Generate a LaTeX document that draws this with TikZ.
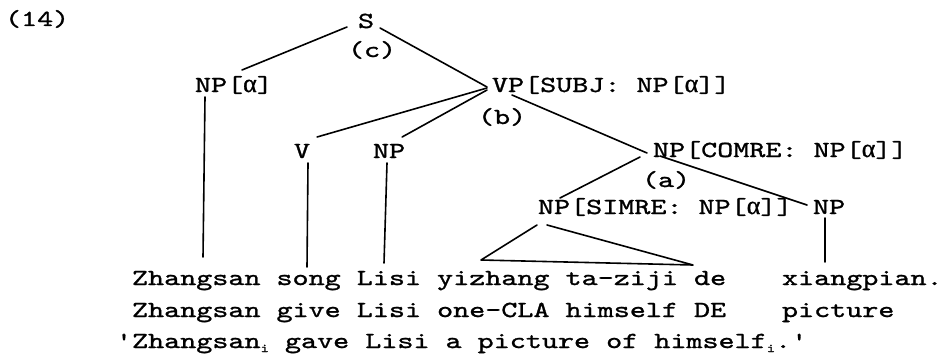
\documentclass[tikz,border=0pt]{standalone}
\usepackage{fontspec}
\newfontfamily\lmono[FakeStretch=1.33,FakeBold=1.2]{lmmono10-regular.otf}
\newfontfamily\grk[FakeBold=1]{Liberation Serif}
\newcommand{\alf}{{\grk\fontsize{26}{28}\selectfont α}}
\begin{document}
\begin{tikzpicture}[x=1pt,y=-1pt,
  lbl/.style={inner sep=0pt, outer sep=0pt, anchor=base west, font=\lmono\fontsize{23}{28}\selectfont},
  edge/.style={line width=1.6pt, line cap=round, line join=round}]
\useasboundingbox (0,0) rectangle (941,353);
\fill[white] (0,0) rectangle (941,353);
% labels
\node[lbl] (ex) at (5,26) {(14)};
\node[lbl] (S) at (358,28) {S};
\node[lbl] (c) at (348,57) {(c)};
\node[lbl] (NPa) at (195,92) {NP[\alf]};
\node[lbl] (VP) at (492,92) {VP[SUBJ: NP[\alf]]};
\node[lbl] (b) at (478,124) {(b)};
\node[lbl] (V) at (294,158) {V};
\node[lbl] (NPone) at (373,158) {NP};
\node[lbl] (COMRE) at (653,157) {NP[COMRE: NP[\alf]]};
\node[lbl] (a) at (642,187) {(a)};
\node[lbl] (SIMRE) at (538,214) {NP[SIMRE: NP[\alf]]};
\node[lbl] (NPtwo) at (813,214) {NP};
\node[lbl] (lineA) at (132,285) {Zhangsan song Lisi yizhang ta-ziji de};
\node[lbl] (lineAx) at (782,285) {xiangpian.};
\node[lbl] (lineB) at (132,317) {Zhangsan give Lisi one-CLA himself DE};
\node[lbl] (lineBx) at (782,317) {picture};
\node[lbl] (lineC) at (116,348) {'Zhangsan\raisebox{-4pt}{\fontsize{12}{12}\selectfont i} gave Lisi a picture of himself\raisebox{-4pt}{\fontsize{12}{12}\selectfont i}.'};
% edges
\draw[edge] ([xshift=-11pt,yshift=1pt]S.base west) -- ([xshift=47pt,yshift=22pt]NPa.base west);
\draw[edge] ([xshift=6pt,yshift=0pt]S.base east) -- ([xshift=-5pt,yshift=5pt]VP.base west);
\draw[edge] ([xshift=-5pt,yshift=4pt]VP.base west) -- ([xshift=7pt,yshift=21pt]V.base east);
\draw[edge] ([xshift=-5pt,yshift=2pt]VP.base west) -- ([xshift=-3pt,yshift=21pt]NPone.base east);
\draw[edge] ([xshift=20pt,yshift=-3pt]VP.base west) -- ([xshift=-6pt,yshift=4pt]COMRE.base west);
\draw[edge] ([xshift=-13pt,yshift=0pt]COMRE.base west) -- ([xshift=22pt,yshift=16pt]SIMRE.base west);
\draw[edge] ([xshift=7pt,yshift=1pt]COMRE.base west) -- ([xshift=-6pt,yshift=9pt]NPtwo.base west);
\draw[edge] ([xshift=10pt,yshift=-5pt]NPa.base west) -- ([xshift=71pt,yshift=28pt]lineA.base west);
\draw[edge] ([xshift=14pt,yshift=-5pt]V.base west) -- ([xshift=175pt,yshift=18pt]lineA.base west);
\draw[edge] ([xshift=14pt,yshift=-5pt]NPone.base west) -- ([xshift=252pt,yshift=22pt]lineA.base west);
\draw[edge] ([xshift=12pt,yshift=-4pt]NPtwo.base west) -- ([xshift=43pt,yshift=23pt]lineAx.base west);
\draw[edge] ([xshift=-1pt,yshift=-11pt]SIMRE.base west) -- ([xshift=349pt,yshift=25pt]lineA.base west)
  -- ([xshift=561pt,yshift=20pt]lineA.base west) -- ([xshift=9pt,yshift=-11pt]SIMRE.base west);
\end{tikzpicture}
\end{document}
